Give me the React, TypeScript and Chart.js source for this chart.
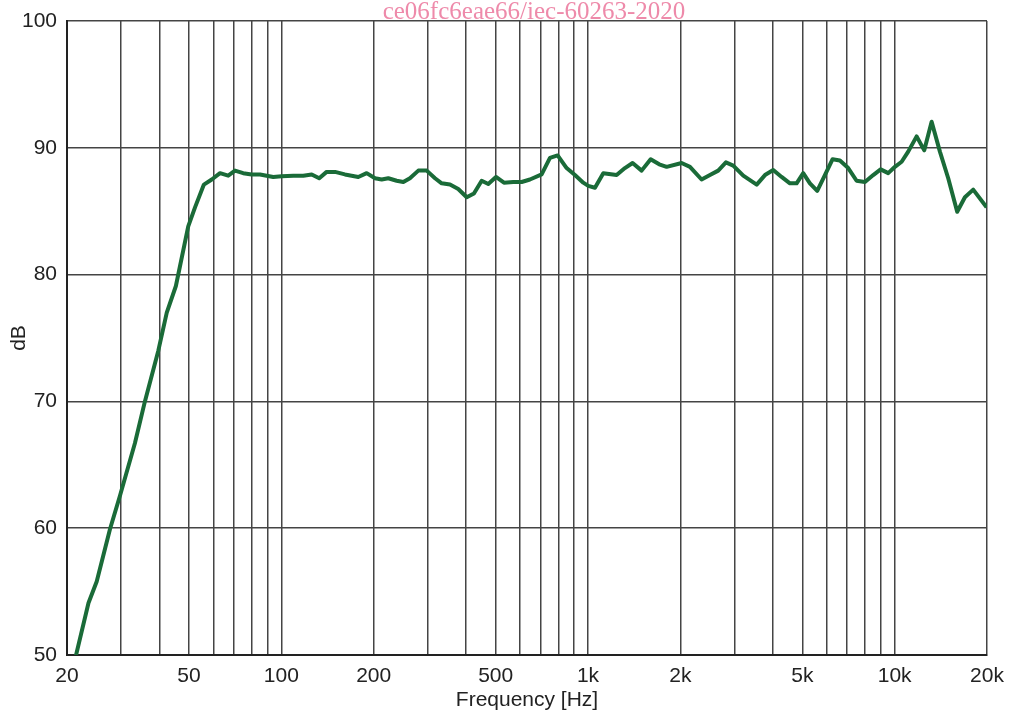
import React, { useEffect, useRef } from "react";
import { Chart, registerables } from "chart.js";

Chart.register(...registerables);

// Frequency (Hz) of each measured point
const frequencies: number[] = [
  20, 23.5, 25.0, 27.6, 29.8, 33.3, 35.9, 39.7, 42.3, 45.3, 49.7, 52.3, 55.9, 59.3, 63.1, 67.1,
  70.6, 75.1, 80.0, 85.2, 94.1, 100.2, 109.4, 117.9, 125.6, 132.9, 140.5, 149.6, 161.2, 178.2,
  189.8, 202.0, 212.4, 223.2, 237.7, 249.9, 262.6, 279.7, 297.9, 317.0, 333.3, 354.8, 377.5,
  402.2, 424.6, 450.0, 472.9, 501.0, 532.0, 570.4, 607.6, 646.6, 706.0, 751.4, 796.0, 851.6,
  906.6, 965.0, 1001.8, 1053.6, 1121.4, 1239.6, 1319.2, 1397.6, 1495.4, 1600.4, 1706.8, 1804.4,
  2019.6, 2150, 2346, 2498, 2658, 2816, 2975, 3208, 3548, 3776, 4018, 4278, 4554, 4788, 5032,
  5292, 5590, 5922, 6274, 6628, 7054, 7512, 7998, 8512, 8998, 9528, 10018, 10536, 11068, 11792,
  12486, 13198, 14044, 14948, 15990, 16942, 18032, 19940,
];

// Sound pressure level (dB) at each frequency
const levels: number[] = [
  47.0, 54.1, 55.8, 59.9, 62.6, 66.7, 70.0, 74.0, 77.0, 79.1, 83.8, 85.3, 87.1, 87.5, 88.0, 87.8,
  88.2, 88.0, 87.9, 87.9, 87.7, 87.75, 87.8, 87.8, 87.9, 87.6, 88.1, 88.1, 87.9, 87.7,
  88.0, 87.6, 87.5, 87.6, 87.4, 87.3, 87.6, 88.2, 88.2, 87.6, 87.2, 87.1, 86.75,
  86.1, 86.4, 87.4, 87.15, 87.7, 87.25, 87.3, 87.3, 87.5, 87.9, 89.2, 89.4, 88.4,
  87.85, 87.25, 87.0, 86.85, 88.0, 87.85, 88.4, 88.8, 88.2, 89.1, 88.7, 88.5,
  88.8, 88.5, 87.5, 87.85, 88.2, 88.85, 88.6, 87.8, 87.1, 87.85, 88.25, 87.7, 87.2, 87.2, 88.0,
  87.2, 86.6, 87.85, 89.1, 89.0, 88.4, 87.4, 87.3, 87.85, 88.3, 88.0, 88.5, 88.9, 89.7, 90.9,
  89.8, 92.05, 89.7, 87.6, 84.96, 86.1, 86.7, 85.3,
];

// Gridline positions on the frequency axis, and which ones carry a label
const xGridValues: number[] = [
  20, 30, 40, 50, 60, 70, 80, 90, 100, 200, 300, 400, 500, 600, 700, 800, 900, 1000,
  2000, 3000, 4000, 5000, 6000, 7000, 8000, 9000, 10000, 20000,
];
const xLabelValues: number[] = [20, 50, 100, 200, 500, 1000, 2000, 5000, 10000, 20000];
const xLabelTexts: string[] = ["20", "50", "100", "200", "500", "1k", "2k", "5k", "10k", "20k"];

const yTicks: number[] = [50, 60, 70, 80, 90, 100];

const xTitle = "Frequency [Hz]";
const yTitle = "dB";
const watermark = "ce06fc6eae66/iec-60263-2020";

export default function App() {
  const canvasRef = useRef<HTMLCanvasElement | null>(null);

  useEffect(() => {
    document.body.style.margin = "0";
    document.body.style.overflow = "hidden";
    const canvas = canvasRef.current;
    if (!canvas) return;
    const font = { family: "'Liberation Sans', Arial, sans-serif", size: 21 };
    const chart = new Chart(canvas, {
      type: "line",
      data: {
        datasets: [
          {
            data: frequencies.map((f, i) => ({ x: f, y: levels[i] })),
            borderColor: "#1a6b38",
            borderWidth: 4,
            pointRadius: 0,
            tension: 0,
            fill: false,
            borderJoinStyle: "round",
          },
        ],
      },
      options: {
        responsive: false,
        animation: false,
        devicePixelRatio: 1,
        layout: { padding: { left: 0, top: 21, right: 23, bottom: 0 } },
        plugins: { legend: { display: false }, tooltip: { enabled: false } },
        scales: {
          x: {
            type: "logarithmic",
            min: 20,
            max: 20000,
            afterBuildTicks: (scale: any) => {
              scale.ticks = xGridValues.map((v) => ({ value: v }));
            },
            afterFit: (scale: any) => {
              scale.height = 58;
              scale.paddingLeft = 0;
              scale.paddingRight = 0;
            },
            ticks: {
              autoSkip: false,
              maxRotation: 0,
              padding: 9,
              color: "#222",
              font,
              callback: (value: any) => {
                const idx = xLabelValues.indexOf(Number(value));
                return idx >= 0 ? xLabelTexts[idx] : "";
              },
            },
            grid: { color: "#444", lineWidth: 1.5, drawTicks: false },
            border: { color: "#222", width: 2 },
            title: {
              display: true,
              text: xTitle,
              color: "#222",
              font,
              padding: { top: 0, bottom: 0 },
            },
          },
          y: {
            type: "linear",
            min: 50,
            max: 100,
            afterBuildTicks: (scale: any) => {
              scale.ticks = yTicks.map((v) => ({ value: v }));
            },
            afterFit: (scale: any) => {
              scale.width = 67;
              scale.paddingTop = 0;
              scale.paddingBottom = 0;
            },
            ticks: { padding: 10, color: "#222", font },
            grid: { color: "#444", lineWidth: 1.5, drawTicks: false },
            border: { color: "#222", width: 2 },
            title: {
              display: true,
              text: yTitle,
              color: "#222",
              font,
              padding: { top: 7, bottom: 0 },
            },
          },
        },
      },
    });
    return () => chart.destroy();
  }, []);

  return (
    <div style={{ position: "relative", width: 1010, height: 713, background: "#fff" }}>
      <canvas ref={canvasRef} width={1010} height={713} style={{ display: "block" }} />
      <div
        style={{
          position: "absolute",
          left: 0,
          width: 1068,
          top: -3,
          textAlign: "center",
          fontFamily: "'Liberation Serif', 'Times New Roman', serif",
          fontSize: 25,
          lineHeight: "28px",
          color: "#ee8aaa",
          pointerEvents: "none",
          whiteSpace: "nowrap",
        }}
      >
        {watermark}
      </div>
    </div>
  );
}
